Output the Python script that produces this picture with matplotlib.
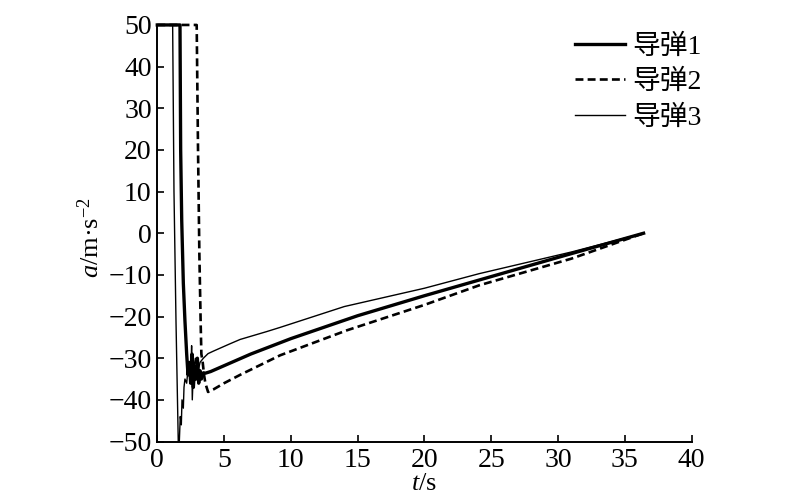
import matplotlib

matplotlib.use("Agg")
import matplotlib.pyplot as plt

# missile 1 (thick solid)
t1 = [0, 1.7, 1.75, 1.83, 1.95, 2.07, 2.2, 2.3, 2.4, 2.5, 2.6, 2.7, 2.8, 2.9, 3.0, 3.1,
      3.2, 3.3, 3.45, 3.6, 4.0, 5.0, 7.0, 10, 15, 20, 25, 30, 36.4]
a1 = [50, 50, 20, 3, -12, -21, -29, -34, -31, -36, -29, -37, -32, -35, -30, -36,
      -33, -35, -33.5, -33.6, -33.2, -31.8, -29.0, -25.3, -19.8, -15.0, -10.4, -5.8, 0]

# missile 2 (dashed)
t2 = [0, 2.95, 3.05, 3.15, 3.25, 3.3, 3.4, 3.5, 3.6, 3.8, 4.2, 5, 6.2, 9.2, 14.2,
      20, 24.1, 31, 36.4]
a2 = [50, 50, 20, -5, -22, -29, -31, -34, -36, -38.1, -37.5, -36, -34, -29.3, -23.3,
      -17.2, -12.5, -6.1, 0]

# missile 3 (thin solid)
t3 = [0, 1.15, 1.25, 1.4, 1.57, 1.65, 1.72, 1.8, 1.85, 1.95, 2.0, 2.07, 2.2, 2.35,
      2.5, 2.57, 2.62, 2.7, 2.85, 3.0, 3.2, 3.45, 3.8, 4.2, 5.4, 6.2, 8.2, 9.2, 14,
      20, 24.1, 31, 36.4]
a3 = [50, 50, 10, -21, -50, -50, -44, -46, -40, -42, -37, -35, -36, -31,
      -35, -27, -40, -33, -30, -34, -31, -30, -28.9, -28.3, -26.6, -25.5, -23.6, -22.6, -17.6,
      -13.2, -9.7, -4.5, 0]

labels = ["导弹1", "导弹2", "导弹3"]
x_ticks = list(range(0, 41, 5))
y_ticks = list(range(-50, 51, 10))

plt.rcParams["font.family"] = ["Liberation Serif", "Noto Sans CJK SC"]
plt.rcParams["mathtext.fontset"] = "custom"
plt.rcParams["mathtext.rm"] = "Liberation Serif"
plt.rcParams["mathtext.it"] = "Liberation Serif:italic"

fig = plt.figure(figsize=(8.0, 4.99), dpi=100)
ax = fig.add_axes([0.1966, 0.1152, 0.668, 0.8348])

ax.plot(t1, a1, color="black", lw=2.4, label=labels[0], clip_on=False)
ax.plot(t2, a2, color="black", lw=1.9, ls=(0, (3, 1.6)), label=labels[1], clip_on=False)
ax.plot(t3, a3, color="black", lw=1.0, label=labels[2], clip_on=False)

ax.set_xlim(0, 40)
ax.set_ylim(-50, 50)
ax.set_xticks(x_ticks)
ax.set_yticks(y_ticks)
ax.tick_params(direction="in", length=5, width=1.2, labelsize=20)
ax.tick_params(axis="x", pad=5)
ax.tick_params(axis="y", pad=4)
for side in ["top", "right"]:
    ax.spines[side].set_visible(False)
for side in ["left", "bottom"]:
    ax.spines[side].set_linewidth(1.4)

ax.set_xlabel(r"$\mathit{t}$/s", fontsize=19, labelpad=0)
ax.set_ylabel(r"$\mathit{a}$/m·s$^{-2}$", fontsize=19)
ax.yaxis.set_label_coords(-0.1, 0.49)

ax.legend(loc="upper left", bbox_to_anchor=(575 / 800, 1 - 34 / 499),
          bbox_transform=fig.transFigure, frameon=False, fontsize=20,
          handlelength=1.8, handletextpad=0.25, labelspacing=0.37,
          borderpad=0, borderaxespad=0)

fig.savefig("out.png", dpi=100)
